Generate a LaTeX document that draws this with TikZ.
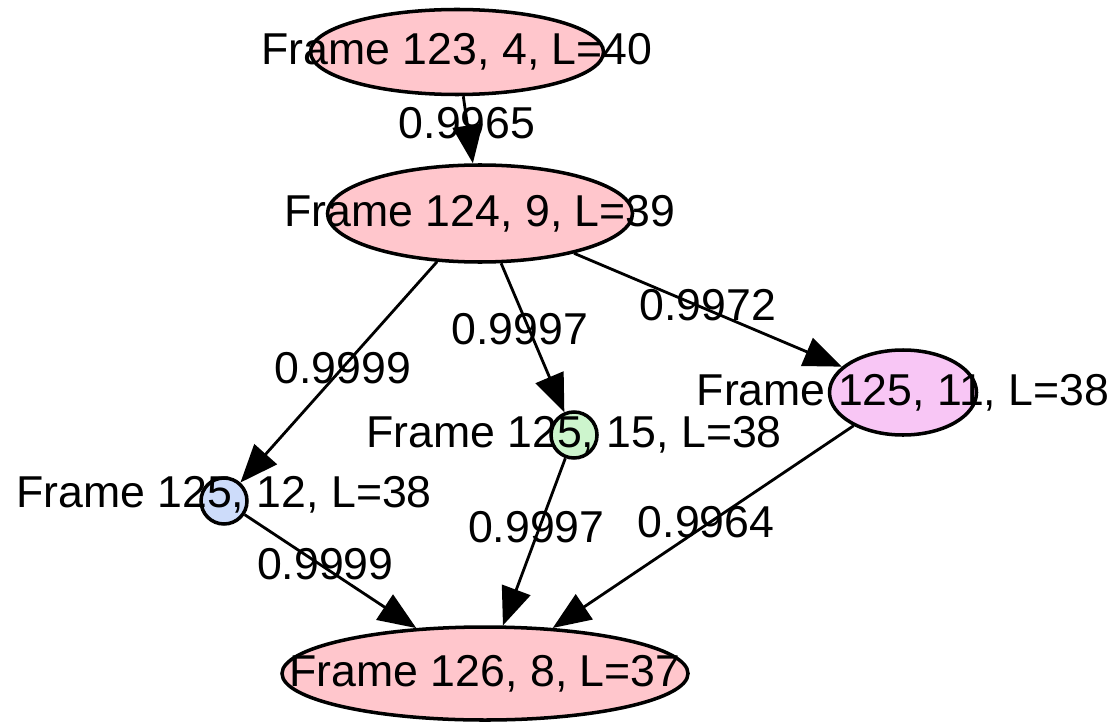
\documentclass[tikz,border=0pt]{standalone}
\usepackage{fontspec}
\setmainfont{Liberation Sans}
\usetikzlibrary{shapes.geometric,arrows.meta}
\definecolor{framepink}{RGB}{255,198,204}
\definecolor{framemagenta}{RGB}{248,198,245}
\definecolor{framegreen}{RGB}{205,245,205}
\definecolor{frameblue}{RGB}{205,220,250}
\begin{document}
\begin{tikzpicture}[
    font=\fontsize{12.7pt}{15pt}\selectfont,
    frame/.style={ellipse,draw,line width=1pt,inner sep=0pt},
    dot/.style={circle,draw,line width=1pt,inner sep=0pt,minimum size=0.46cm},
    link/.style={line width=0.8pt,-{Triangle[length=0.38cm,width=0.3cm]}},
    weight/.style={inner sep=0pt}]
\useasboundingbox (0,0) rectangle (11.15,-7.22);
% frames
\node[frame,fill=framepink,minimum width=2.93cm,minimum height=0.85cm,
    label={center:{Frame 123, 4, L=40}}] (f123) at (4.57,-0.52) {};
\node[frame,fill=framepink,minimum width=3.05cm,minimum height=0.97cm,
    label={center:{Frame 124, 9, L=39}}] (f124) at (4.80,-2.135) {};
\node[dot,fill=frameblue,
    label={[yshift=0.06cm]center:{Frame 125, 12, L=38}}] (f125a) at (2.24,-5.01) {};
\node[dot,fill=framegreen,
    label={center:{Frame 125, 15, L=38}}] (f125b) at (5.74,-4.35) {};
\node[frame,fill=framemagenta,minimum width=1.47cm,minimum height=0.85cm,
    label={center:{Frame 125, 11, L=38}}] (f125c) at (9.03,-3.925) {};
\node[frame,fill=framepink,minimum width=4.06cm,minimum height=0.93cm,
    label={center:{Frame 126, 8, L=37}}] (f126) at (4.85,-6.735) {};
% links
\draw[link] (f123) -- node[weight,pos=0.4] {0.9965} (f124);
\draw[link] (f124) -- node[weight,pos=0.48] {0.9999} (f125a);
\draw[link] (f124) -- node[weight,pos=0.44,xshift=-0.09cm] {0.9997} (f125b);
\draw[link] (f124) -- node[weight,pos=0.5,yshift=0.05cm] {0.9972} (f125c);
\draw[link] (f125a) -- node[weight,pos=0.47,yshift=0.04cm] {0.9999} (f126);
\draw[link] (f125b) -- node[weight,pos=0.41,xshift=-0.035cm] {0.9997} (f126);
\draw[link] (f125c) -- node[weight,pos=0.49,yshift=0.03cm] {0.9964} (f126);
\end{tikzpicture}
\end{document}
